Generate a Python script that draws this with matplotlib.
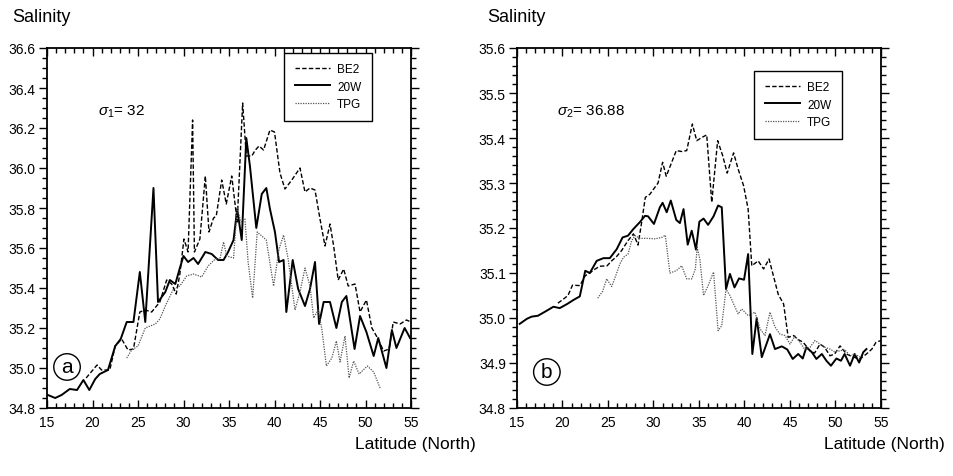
import matplotlib
matplotlib.use("Agg")
import matplotlib.pyplot as plt
from matplotlib.ticker import MultipleLocator, FixedLocator
import matplotlib.font_manager as fm

names = {f.name for f in fm.fontManager.ttflist}
FONT = 'Liberation Sans Narrow' if 'Liberation Sans Narrow' in names else 'Liberation Sans'
plt.rcParams['font.family'] = [FONT, 'DejaVu Sans']
plt.rcParams['mathtext.fontset'] = 'custom'
plt.rcParams['mathtext.rm'] = FONT
plt.rcParams['mathtext.it'] = FONT + ':italic'

# ---------------- Panel a (sigma1 = 32) ----------------
a_20w_lat = [15.1, 15.9, 16.6, 17.5, 18.3, 19.0, 19.65, 20.3, 20.8, 21.7, 22.5, 23.1, 23.76, 24.5,
             25.2, 25.8, 26.7, 27.2, 28.0, 28.5, 29.1, 29.6, 30.0, 30.5, 31.1, 31.6, 32.4, 33.1,
             33.8, 34.4, 34.9, 35.5, 35.9, 36.4, 36.9, 37.3, 38.0, 38.6, 39.1, 39.5, 40.05, 40.5,
             41.0, 41.3, 42.0, 42.6, 43.35, 43.9, 44.45, 44.9, 45.4, 46.1, 46.8, 47.4, 47.9, 48.8,
             49.4, 50.1, 50.9, 51.4, 52.3, 52.9, 53.4, 54.3, 54.9]
a_20w_sal = [34.865, 34.85, 34.865, 34.895, 34.89, 34.94, 34.89, 34.945, 34.97, 34.99, 35.11, 35.145,
             35.23, 35.23, 35.48, 35.23, 35.90, 35.33, 35.38, 35.44, 35.42, 35.50, 35.56, 35.53,
             35.55, 35.52, 35.58, 35.57, 35.54, 35.54, 35.58, 35.64, 35.795, 35.64, 36.15, 36.01,
             35.70, 35.87, 35.90, 35.795, 35.68, 35.53, 35.54, 35.28, 35.54, 35.395, 35.31, 35.395,
             35.53, 35.22, 35.33, 35.33, 35.20, 35.33, 35.36, 35.095, 35.26, 35.18, 35.06, 35.15,
             35.00, 35.19, 35.10, 35.20, 35.15]

a_be2_lat = [19.3, 20.5, 21.0, 21.9, 22.5, 23.2, 23.9, 24.5, 25.2, 25.8, 26.5, 27.4, 28.15, 28.7,
             29.2, 29.6, 30.05, 30.5, 31.0, 31.2, 31.8, 32.4, 32.8, 33.3, 33.6, 34.2, 34.7, 35.3,
             35.9, 36.5, 36.9, 37.5, 37.9, 38.3, 38.8, 39.5, 40.0, 40.6, 41.15, 41.9, 42.8, 43.35,
             43.9, 44.45, 45.0, 45.55, 46.1, 46.5, 47.0, 47.6, 48.1, 48.85, 49.4, 50.1, 50.7, 51.2,
             52.0, 52.6, 53.05, 53.8, 54.5, 55.0]
a_be2_sal = [34.95, 35.015, 34.99, 34.99, 35.11, 35.145, 35.09, 35.095, 35.28, 35.29, 35.28, 35.33,
             35.44, 35.42, 35.37, 35.47, 35.645, 35.58, 36.24, 35.58, 35.645, 35.96, 35.68, 35.75,
             35.76, 35.94, 35.82, 35.96, 35.73, 36.325, 36.06, 36.06, 36.09, 36.11, 36.09, 36.19,
             36.18, 35.975, 35.895, 35.94, 36.0, 35.88, 35.90, 35.89, 35.745, 35.61, 35.72, 35.61,
             35.44, 35.495, 35.41, 35.42, 35.28, 35.34, 35.20, 35.16, 35.085, 35.095, 35.23, 35.22,
             35.24, 35.23]

a_tpg_lat = [23.76, 24.3, 25.0, 25.8, 26.9, 27.4, 28.0, 28.9, 29.6, 30.35, 31.1, 32.0, 32.7, 33.5,
             34.0, 34.4, 34.75, 35.5, 35.9, 36.3, 36.75, 37.1, 37.6, 38.1, 38.6, 39.1, 39.9, 40.5,
             41.0, 41.5, 42.25, 42.8, 43.35, 43.9, 44.3, 44.8, 45.2, 45.7, 46.3, 46.8, 47.2, 47.75,
             48.2, 48.7, 49.3, 50.2, 50.9, 51.6]
a_tpg_sal = [35.05, 35.09, 35.11, 35.20, 35.22, 35.245, 35.31, 35.395, 35.41, 35.46, 35.47, 35.455,
             35.51, 35.545, 35.545, 35.63, 35.56, 35.55, 35.80, 35.73, 35.745, 35.53, 35.35, 35.68,
             35.66, 35.64, 35.41, 35.595, 35.665, 35.545, 35.29, 35.38, 35.50, 35.41, 35.25, 35.29,
             35.195, 35.01, 35.05, 35.135, 35.03, 35.16, 34.95, 35.035, 34.97, 35.01, 34.98, 34.90]

# ---------------- Panel b (sigma2 = 36.88) ----------------
b_20w_lat = [15.3, 16.07, 16.6, 17.3, 18.25, 19.0, 19.7, 20.5, 21.2, 21.9, 22.5, 23.0, 23.76, 24.5,
             25.2, 25.96, 26.6, 27.2, 27.8, 28.5, 29.07, 29.4, 30.05, 30.7, 31.0, 31.45, 31.9, 32.5,
             32.9, 33.3, 33.76, 34.2, 34.67, 35.04, 35.5, 36.0, 36.6, 37.1, 37.5, 37.97, 38.4, 38.9,
             39.4, 39.95, 40.4, 40.86, 41.34, 41.9, 42.8, 43.35, 44.1, 44.7, 45.3, 45.9, 46.4, 46.8,
             47.4, 47.9, 48.5, 49.0, 49.5, 50.1, 50.6, 51.0, 51.6, 52.1, 52.6, 53.05, 53.4]
b_20w_sal = [34.987, 34.998, 35.003, 35.005, 35.016, 35.025, 35.022, 35.031, 35.04, 35.048, 35.105,
             35.10, 35.127, 35.133, 35.133, 35.153, 35.179, 35.183, 35.198, 35.213, 35.227, 35.226,
             35.209, 35.246, 35.256, 35.235, 35.261, 35.218, 35.211, 35.242, 35.163, 35.194, 35.152,
             35.214, 35.221, 35.207, 35.226, 35.25, 35.246, 35.064, 35.098, 35.068, 35.088, 35.085,
             35.142, 34.92, 35.00, 34.913, 34.964, 34.931, 34.937, 34.93, 34.909, 34.92, 34.91,
             34.935, 34.924, 34.909, 34.92, 34.905, 34.894, 34.91, 34.905, 34.92, 34.894, 34.92,
             34.901, 34.924, 34.931]

b_be2_lat = [19.5, 20.1, 20.6, 21.1, 21.9, 22.5, 23.0, 23.6, 24.1, 24.9, 25.4, 25.96, 26.5, 27.2,
             27.8, 28.3, 28.7, 29.1, 29.6, 30.5, 31.0, 31.4, 32.0, 32.5, 33.1, 33.65, 34.27, 34.75,
             35.3, 35.85, 36.4, 37.05, 37.6, 38.1, 38.8, 39.3, 39.9, 40.4, 40.8, 41.5, 42.1, 42.7,
             43.7, 44.3, 44.8, 45.4, 45.9, 46.45, 47.2, 47.7, 48.3, 48.8, 49.4, 49.9, 50.5, 51.2,
             51.96, 52.7, 53.4, 54.0, 54.45, 55.0]
b_be2_sal = [35.033, 35.042, 35.05, 35.073, 35.072, 35.094, 35.10, 35.109, 35.115, 35.116, 35.127,
             35.137, 35.15, 35.172, 35.187, 35.162, 35.213, 35.268, 35.275, 35.30, 35.346, 35.315,
             35.346, 35.372, 35.37, 35.372, 35.431, 35.394, 35.401, 35.407, 35.257, 35.394, 35.361,
             35.322, 35.367, 35.331, 35.294, 35.242, 35.116, 35.127, 35.109, 35.131, 35.053, 35.031,
             34.957, 34.961, 34.952, 34.946, 34.927, 34.922, 34.942, 34.935, 34.916, 34.92, 34.938,
             34.92, 34.913, 34.909, 34.92, 34.931, 34.946, 34.95]

b_tpg_lat = [23.87, 24.4, 24.86, 25.4, 25.85, 26.3, 26.7, 27.2, 27.6, 27.97, 28.5, 29.25, 30.2,
             30.9, 31.3, 31.8, 32.5, 33.1, 33.65, 34.2, 34.6, 34.8, 35.1, 35.5, 36.0, 36.6, 37.1,
             37.5, 37.97, 38.4, 38.9, 39.3, 39.7, 40.4, 41.15, 41.7, 42.25, 42.8, 43.35, 43.9, 44.45,
             45.0, 45.55, 46.1, 46.6, 47.2, 47.75, 48.3, 48.8, 49.4, 49.9, 50.5, 51.0, 51.6, 52.1,
             52.7]
b_tpg_sal = [35.044, 35.059, 35.087, 35.07, 35.094, 35.12, 35.135, 35.142, 35.172, 35.183, 35.177,
             35.177, 35.176, 35.179, 35.184, 35.10, 35.105, 35.116, 35.087, 35.087, 35.109, 35.157,
             35.13, 35.05, 35.072, 35.102, 34.972, 34.983, 35.064, 35.05, 35.027, 35.009, 35.02,
             35.005, 35.013, 34.976, 34.961, 35.013, 34.98, 34.964, 34.961, 34.942, 34.96, 34.946,
             34.931, 34.935, 34.95, 34.942, 34.935, 34.931, 34.925, 34.927, 34.93, 34.916, 34.92,
             34.913]

x_ticks = [15, 20, 25, 30, 35, 40, 45, 50, 55]
a_yticks = [34.8, 35.0, 35.2, 35.4, 35.6, 35.8, 36.0, 36.2, 36.4, 36.6]
b_yticks = [34.8, 34.9, 35.0, 35.1, 35.2, 35.3, 35.4, 35.5, 35.6]
series_names = ['BE2', '20W', 'TPG']

W, H = 954, 477
fig = plt.figure(figsize=(W / 100, H / 100), dpi=100)

def px_axes(x0, x1, y0, y1):
    return fig.add_axes([x0 / W, 1 - y1 / H, (x1 - x0) / W, (y1 - y0) / H])

axa = px_axes(47, 411, 49, 409)
axb = px_axes(517, 881, 49, 409)

panels = [
    (axa, a_be2_lat, a_be2_sal, a_20w_lat, a_20w_sal, a_tpg_lat, a_tpg_sal, a_yticks, 0.05,
     r'$\sigma_1$= 32', 'a', (0.651, 0.987), 0.14, 0.055, 0.114),
    (axb, b_be2_lat, b_be2_sal, b_20w_lat, b_20w_sal, b_tpg_lat, b_tpg_sal, b_yticks, 0.02,
     r'$\sigma_2$= 36.88', 'b', (0.651, 0.937), 0.11, 0.082, 0.10),
]

for (ax, be_x, be_y, w_x, w_y, t_x, t_y, yt, yminor, sig, lab, legpos, sigx, circx, circy) in panels:
    l1, = ax.plot(be_x, be_y, color='black', lw=1.0, ls=(0, (3.2, 1.6)))
    l2, = ax.plot(w_x, w_y, color='black', lw=1.4, ls='-')
    l3, = ax.plot(t_x, t_y, color='#555555', lw=0.9, ls=(0, (1, 1)))
    ax.set_xlim(15, 55)
    ax.set_ylim(yt[0], yt[-1])
    ax.xaxis.set_major_locator(FixedLocator(x_ticks))
    ax.xaxis.set_minor_locator(MultipleLocator(1))
    ax.yaxis.set_major_locator(FixedLocator(yt))
    ax.yaxis.set_minor_locator(MultipleLocator(yminor))
    ax.set_xticklabels([str(v) for v in x_ticks])
    ax.set_yticklabels(['%.1f' % v for v in yt])
    ax.tick_params(axis='x', which='both', direction='in', top=True, bottom=True,
                   labelsize=10, pad=5, width=1.0)
    ax.tick_params(axis='y', which='both', direction='out', left=True, right=True,
                   labelsize=10, pad=2, width=1.0)
    ax.tick_params(which='major', length=6)
    ax.tick_params(which='minor', length=3.5)
    for s in ax.spines.values():
        s.set_linewidth(1.3)
    leg = ax.legend([l1, l2, l3], series_names, loc='upper left', bbox_to_anchor=legpos,
                    fontsize=8.5, frameon=True, fancybox=False, edgecolor='black',
                    framealpha=1, handlelength=3.0, handletextpad=0.6, borderpad=0.9,
                    labelspacing=0.45, borderaxespad=0)
    leg.get_frame().set_linewidth(1.0)
    ax.text(sigx, 0.825, sig, transform=ax.transAxes, fontsize=11, va='center', ha='left')
    ax.text(circx, circy, lab, transform=ax.transAxes, fontsize=15,
            ha='center', va='center',
            bbox=dict(boxstyle='circle,pad=0.18', fc='white', ec='black', lw=1.0))

fig.text(12 / W, 1 - 18 / H, 'Salinity', fontsize=13, ha='left', va='center')
fig.text(487 / W, 1 - 18 / H, 'Salinity', fontsize=13, ha='left', va='center')
fig.text(476 / W, 1 - 445 / H, 'Latitude (North)', fontsize=12.5, ha='right', va='center')
fig.text(945 / W, 1 - 445 / H, 'Latitude (North)', fontsize=12.5, ha='right', va='center')

fig.savefig('out.png', dpi=100)
